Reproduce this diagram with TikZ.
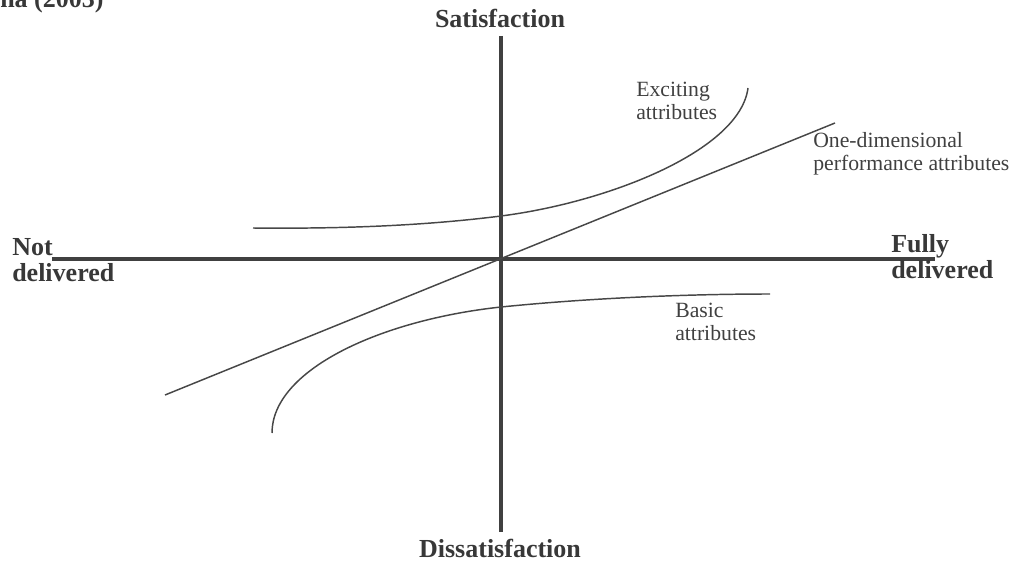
\documentclass[tikz,border=0pt]{standalone}
\usepackage{fontspec}
\setmainfont{Liberation Serif}
\begin{document}
\begin{tikzpicture}[x=0.75pt,y=-0.75pt,
  axe/.style={line width=2.6pt,color=black!75},
  courbe/.style={line width=1.1pt,color=black!72},
  titre/.style={font=\fontsize{19.5}{19.5}\selectfont\bfseries,text=black!78,inner sep=0pt},
  etiq/.style={font=\fontsize{16.3}{17.2}\selectfont,text=black!75,inner sep=0pt,align=left,anchor=north west}]

\useasboundingbox (0,0) rectangle (1013,563);

% axes
\coordinate (gauche) at (52,259);
\coordinate (droite) at (935,259);
\coordinate (haut) at (501,36);
\coordinate (bas) at (501,532);

\draw[axe] (gauche)--(droite);
\draw[axe] (haut)--(bas);

% courbes
\coordinate (e1) at (253,228);
\coordinate (e2) at (501,216);
\coordinate (e3) at (748,88);
\draw[courbe] (e1) .. controls (350,229) and (430,225) .. (e2)
  .. controls (610,202) and (740,150) .. (e3);

\coordinate (u1) at (165,395);
\coordinate (u2) at (835,123);
\draw[courbe] (u1)--(u2);

\coordinate (b1) at (272,433);
\coordinate (b2) at (501,307);
\coordinate (b3) at (770,294);
\draw[courbe] (b1) .. controls (272,370) and (380,320) .. (b2)
  .. controls (600,297) and (700,294) .. (b3);

% textes
\node[titre,anchor=base west] (source) at (0,8){na (2003)};
\node[titre,anchor=base] (satis) at (500,28){Satisfaction};
\node[titre,anchor=base] (dissatis) at (500,557){Dissatisfaction};
\node[titre,anchor=north west,align=left] (nondel) at (12,238){Not\\delivered};
\node[titre,anchor=north west,align=left] (fulldel) at (891,234){Fully\\delivered};

\node[etiq] (exc) at (636,82){Exciting\\attributes};
\node[etiq] (onedim) at (813,132){One-dimensional\\performance attributes};
\node[etiq] (basic) at (675,303){Basic\\attributes};

\end{tikzpicture}
\end{document}
